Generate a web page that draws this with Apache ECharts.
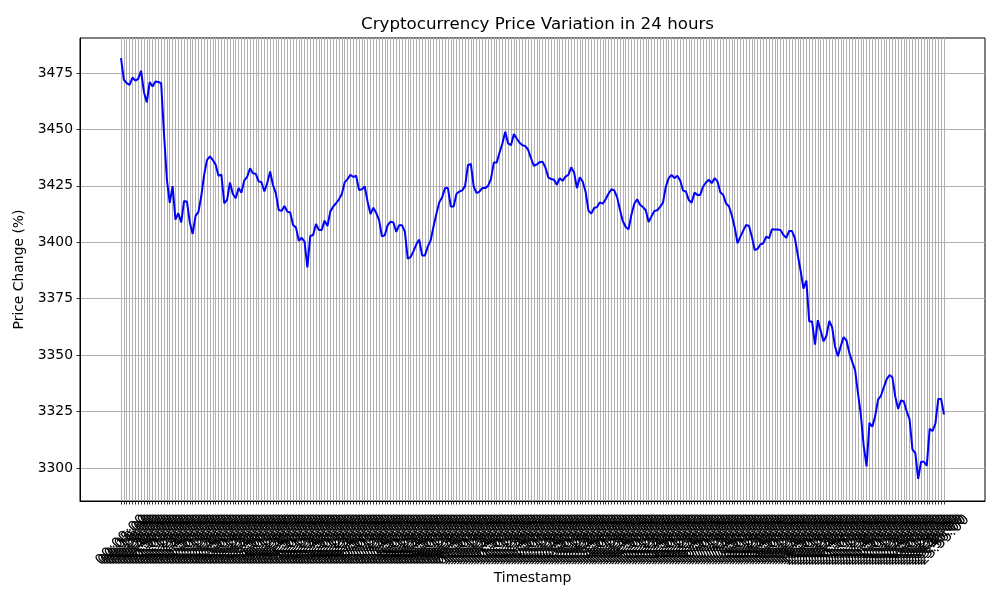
<!DOCTYPE html>
<html>
<head>
<meta charset="utf-8">
<script src="https://cdn.jsdelivr.net/npm/echarts@6/dist/echarts.min.js"></script>
<style>
  html, body { margin: 0; padding: 0; background: #fff; }
  #priceChart { width: 1000px; height: 600px; }
</style>
</head>
<body>
<div id="priceChart"></div>
<script>
// price readings, one every 5 minutes
var prices = [
  3481.6, 3472, 3470.5, 3469.7, 3473, 3471.6, 3472.4, 3476, 3466.5, 3462,
  3471, 3469, 3471.2, 3471, 3470.5, 3448, 3427.8, 3417.5, 3424.9, 3410,
  3412.9, 3408.8, 3418.3, 3418, 3408.8, 3403.7, 3411.7, 3413.5, 3420.5, 3430,
  3436.5, 3438, 3436.5, 3434.4, 3429.5, 3430, 3417.3, 3418.8, 3426.5, 3421.4,
  3419.5, 3424, 3422, 3427.4, 3429, 3432.8, 3430.6, 3430.3, 3427, 3426.6,
  3422.5, 3426.2, 3431.4, 3425.4, 3421.7, 3414.3, 3413.9, 3416.1, 3413.6, 3413.2,
  3407.7, 3406.6, 3400.7, 3402, 3400.3, 3388.9, 3402.8, 3403.2, 3408.1, 3405.5,
  3405.5, 3409.6, 3407.2, 3413.7, 3415.8, 3417.3, 3419, 3421.4, 3426.5, 3428,
  3429.9, 3428.9, 3429.5, 3423.2, 3423.5, 3424.7, 3418, 3412.5, 3415.3, 3413,
  3409.8, 3402.7, 3403.1, 3407.6, 3409.1, 3408.8, 3404.6, 3407.6, 3407.6, 3404.6,
  3392.7, 3393.5, 3396.1, 3399.1, 3401.2, 3394.2, 3394.2, 3398.2, 3400.9, 3407.1,
  3412.7, 3417.7, 3420, 3424, 3424, 3415.9, 3415.9, 3421.5, 3422.5, 3423,
  3425, 3434.3, 3434.7, 3424.7, 3421.8, 3422.5, 3424, 3424, 3425, 3428,
  3435.3, 3435.3, 3439.7, 3443.8, 3449, 3443.8, 3443, 3448, 3446, 3444.1,
  3443, 3442.6, 3440.9, 3437.2, 3433.8, 3434.5, 3435.5, 3435.7, 3433.2, 3428.8,
  3428, 3427.7, 3425.5, 3428.4, 3427.2, 3429.1, 3429.9, 3433.2, 3430.9, 3424,
  3428.8, 3426.9, 3422.5, 3414.1, 3412.7, 3415.2, 3415.6, 3417.7, 3417.1, 3419.1,
  3421.5, 3423.5, 3423, 3420, 3414.4, 3409.3, 3406.8, 3405.8, 3412.2, 3417.1,
  3419.1, 3416.6, 3415.6, 3414.2, 3409, 3411.5, 3413.9, 3414.2, 3415.7, 3417.5,
  3424.7, 3428.4, 3429.9, 3428.4, 3429.5, 3427.4, 3422.9, 3422.5, 3418.7, 3417.5,
  3422, 3421, 3421, 3424.7, 3426.5, 3427.7, 3426.2, 3428.4, 3427, 3422.2,
  3421, 3417.2, 3416, 3412, 3406.7, 3399.6, 3402.5, 3405.2, 3407.7, 3407.2,
  3402.5, 3396.6, 3397.1, 3399.1, 3399.6, 3402.5, 3401.8, 3405.8, 3405.7, 3405.7,
  3405.4, 3403.2, 3402, 3405, 3405, 3401.8, 3394.4, 3387.4, 3379.5, 3383,
  3364.9, 3364.9, 3354.7, 3365.5, 3360.8, 3356.1, 3358.6, 3365.2, 3362.3, 3353.8,
  3349.5, 3354, 3358, 3356.5, 3351, 3347, 3343.4, 3333.2, 3323.7, 3309.8,
  3300.7, 3320, 3318.3, 3323, 3330.3, 3332, 3335.8, 3339.3, 3341.2, 3340.2,
  3331.7, 3326.2, 3330, 3329.5, 3325.1, 3321.5, 3308.3, 3306.6, 3295.2, 3302.8,
  3302.8, 3301, 3317.4, 3316.4, 3319.7, 3330.6, 3330.6, 3323.7
];

var yTicks = [3300, 3325, 3350, 3375, 3400, 3425, 3450, 3475];

// HH:MM:SS labels, 5 minute steps
var timestamps = [];
for (var i = 0; i < prices.length; i++) {
  var m = i * 5;
  var hh = String(Math.floor(m / 60)).padStart(2, '0');
  var mm = String(m % 60).padStart(2, '0');
  timestamps.push(hh + ':' + mm + ':00');
}

var yMin = 3285.4, yMax = 3490.5;
var font = 'DejaVu Sans';

var priceChart = echarts.init(document.getElementById('priceChart'));

var options = {
  animation: false,
  textStyle: { fontFamily: font },
  title: {
    text: 'Cryptocurrency Price Variation in 24 hours',
    left: 356,
    top: 11,
    textStyle: { fontFamily: font, fontSize: 16.7, fontWeight: 'normal', color: '#000' }
  },
  grid: [
    { left: 121, right: 56, top: 38, bottom: 99 },
    { left: 80, right: 15, top: 38, bottom: 99, show: true, borderColor: '#000', borderWidth: 1, backgroundColor: 'transparent' }
  ],
  xAxis: [
    {
      gridIndex: 0,
      type: 'category',
      data: timestamps,
      boundaryGap: false,
      axisLine: { show: false },
      axisTick: { show: true, interval: 0, length: 3.5, lineStyle: { color: '#000', width: 0.8 } },
      axisLabel: {
        interval: 0, rotate: 45, align: 'center', verticalAlign: 'middle',
        margin: 39, fontSize: 14.5, color: '#000', fontFamily: font
      },
      splitLine: { show: true, interval: 0, lineStyle: { color: '#b0b0b0', width: 1 } }
    },
    {
      gridIndex: 1,
      type: 'value',
      min: 0, max: 1,
      name: 'Timestamp',
      nameLocation: 'middle',
      nameGap: 70,
      nameTextStyle: { fontSize: 13.9, color: '#000', fontFamily: font },
      axisLine: { show: true, lineStyle: { color: '#000', width: 1 } },
      axisTick: { show: false },
      axisLabel: { show: false },
      splitLine: { show: false }
    }
  ],
  yAxis: [
    {
      gridIndex: 0,
      type: 'value',
      min: yMin, max: yMax,
      show: false,
      splitLine: { show: false }
    },
    {
      gridIndex: 1,
      type: 'value',
      min: yMin, max: yMax,
      name: 'Price Change (%)',
      nameLocation: 'middle',
      nameGap: 49,
      nameTextStyle: { fontSize: 13.9, color: '#000', fontFamily: font },
      axisLine: { show: true, lineStyle: { color: '#000', width: 1 } },
      axisTick: { show: true, length: 3.5, customValues: yTicks, lineStyle: { color: '#000', width: 0.8 } },
      axisLabel: {
        margin: 7, fontSize: 13.9, color: '#000', fontFamily: font, customValues: yTicks,
        formatter: function (v) { return String(v); }
      },
      splitLine: { show: true, lineStyle: { color: '#b0b0b0', width: 1 } }
    }
  ],
  series: [
    {
      name: 'Price',
      type: 'line',
      xAxisIndex: 0,
      yAxisIndex: 0,
      data: prices,
      showSymbol: false,
      lineStyle: { color: '#0000ff', width: 2 },
      z: 5
    }
  ]
};

priceChart.setOption(options);
</script>
</body>
</html>
